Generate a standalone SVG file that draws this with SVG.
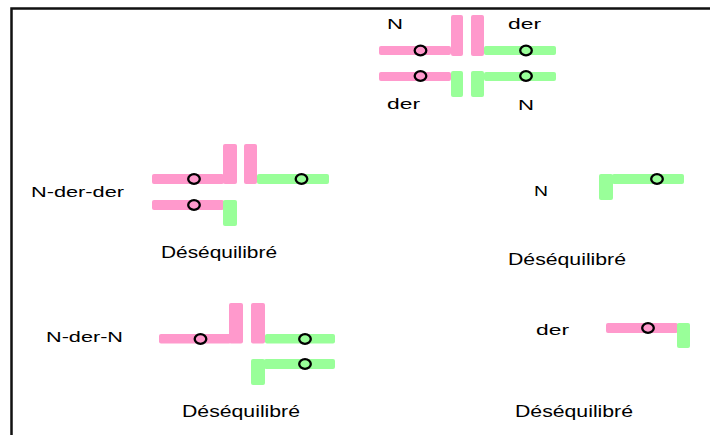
<svg xmlns="http://www.w3.org/2000/svg" width="710" height="435" viewBox="0 0 710 435">
<style>
.p{fill:#ff99cc}
.g{fill:#99ff99}
.o{stroke:#000;stroke-width:2.3;fill:none}
.t{font-family:"Liberation Sans",Arial,sans-serif;font-size:15px;fill:#000}
.d{font-family:"Liberation Sans",Arial,sans-serif;font-size:16px;fill:#000}
</style>
<rect width="710" height="435" fill="#fff"/>
<path d="M11.5,435 V8.5 H710" fill="none" stroke="#111" stroke-width="2.5"/>
<g id="connectors"/>
<g id="top">
<rect class="p" x="379" y="46" width="72" height="9" rx="2"/>
<rect class="p" x="451" y="15" width="12" height="41" rx="2"/>
<rect class="p" x="471" y="15" width="13" height="41" rx="2"/>
<rect class="g" x="484" y="46" width="72" height="9" rx="2"/>
<ellipse class="o" cx="420.5" cy="50.5" rx="5.8" ry="4.8"/>
<ellipse class="o" cx="526" cy="50.5" rx="5.8" ry="4.8"/>
<rect class="p" x="379" y="72" width="72" height="9" rx="2"/>
<rect class="g" x="451" y="71" width="12" height="26" rx="2"/>
<rect class="g" x="471" y="71" width="13" height="26" rx="2"/>
<rect class="g" x="484" y="72" width="72" height="9" rx="2"/>
<ellipse class="o" cx="420.5" cy="76" rx="5.8" ry="4.8"/>
<ellipse class="o" cx="526" cy="76" rx="5.8" ry="4.8"/>
<text class="t" x="387" y="29" textLength="16" lengthAdjust="spacingAndGlyphs">N</text>
<text class="t" x="508" y="29" textLength="33" lengthAdjust="spacingAndGlyphs">der</text>
<text class="t" x="387" y="109" textLength="33" lengthAdjust="spacingAndGlyphs">der</text>
<text class="t" x="518" y="110" textLength="16" lengthAdjust="spacingAndGlyphs">N</text>
</g>
<g id="n-der-der">
<rect class="p" x="152" y="174" width="72" height="10" rx="2"/>
<rect class="p" x="223" y="144" width="14" height="40" rx="2"/>
<rect class="p" x="244" y="144" width="13" height="40" rx="2"/>
<rect class="g" x="257" y="174" width="72" height="10" rx="2"/>
<ellipse class="o" cx="194" cy="179" rx="5.8" ry="4.8"/>
<ellipse class="o" cx="301.5" cy="179" rx="5.8" ry="4.8"/>
<rect class="p" x="152" y="200" width="72" height="10" rx="2"/>
<rect class="g" x="223" y="200" width="14" height="26" rx="2"/>
<ellipse class="o" cx="194" cy="205" rx="5.8" ry="4.8"/>
<text class="t" x="31" y="197" textLength="93" lengthAdjust="spacingAndGlyphs">N-der-der</text>
<text class="d" x="161" y="258" textLength="116" lengthAdjust="spacingAndGlyphs">Déséquilibré</text>
</g>
<g id="n">
<rect class="g" x="599" y="174" width="14" height="26" rx="2"/>
<rect class="g" x="612" y="174" width="72" height="10" rx="2"/>
<ellipse class="o" cx="657" cy="179" rx="5.8" ry="4.8"/>
<text class="t" x="534" y="196" textLength="14" lengthAdjust="spacingAndGlyphs">N</text>
<text class="d" x="508" y="265" textLength="118" lengthAdjust="spacingAndGlyphs">Déséquilibré</text>
</g>
<g id="n-der-n">
<rect class="p" x="159" y="334" width="72" height="9.5" rx="2"/>
<rect class="p" x="229" y="303" width="14" height="40.5" rx="2"/>
<rect class="p" x="251" y="303" width="14" height="40.5" rx="2"/>
<rect class="g" x="265" y="334" width="70" height="9.5" rx="2"/>
<ellipse class="o" cx="200.5" cy="339" rx="5.8" ry="4.8"/>
<ellipse class="o" cx="305" cy="339" rx="5.8" ry="4.8"/>
<rect class="g" x="251" y="359" width="14" height="26" rx="2"/>
<rect class="g" x="264" y="359" width="71" height="10" rx="2"/>
<ellipse class="o" cx="305" cy="364" rx="5.8" ry="4.8"/>
<text class="t" x="46" y="342" textLength="77" lengthAdjust="spacingAndGlyphs">N-der-N</text>
<text class="d" x="182" y="417" textLength="118" lengthAdjust="spacingAndGlyphs">Déséquilibré</text>
</g>
<g id="der">
<rect class="p" x="606" y="323" width="72" height="10" rx="2"/>
<rect class="g" x="677" y="323" width="13" height="25" rx="2"/>
<ellipse class="o" cx="648" cy="328" rx="5.8" ry="4.8"/>
<text class="t" x="536" y="335" textLength="33" lengthAdjust="spacingAndGlyphs">der</text>
<text class="d" x="515" y="417" textLength="118" lengthAdjust="spacingAndGlyphs">Déséquilibré</text>
</g>
</svg>
